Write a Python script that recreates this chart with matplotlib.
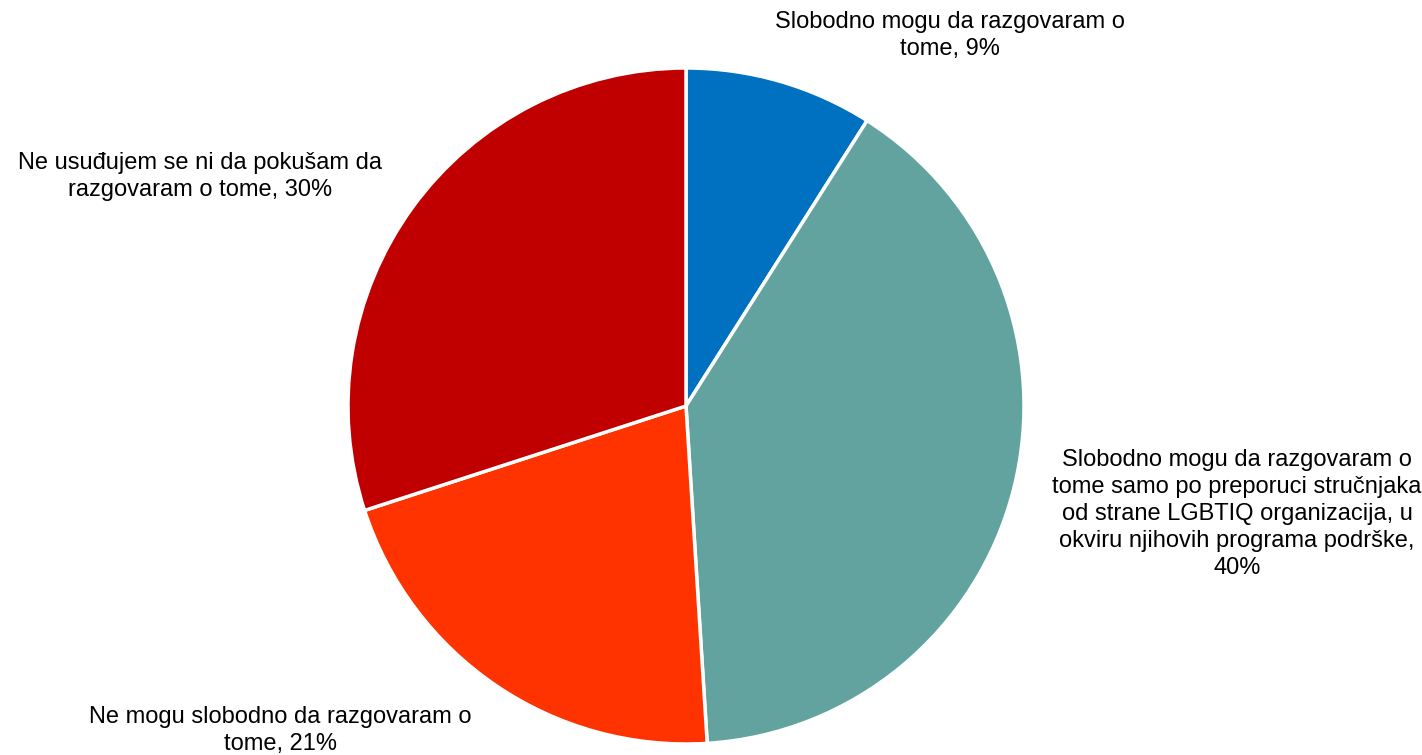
import matplotlib.pyplot as plt

plt.rcParams['font.family'] = ['Liberation Sans', 'DejaVu Sans']

labels = [
    "Slobodno mogu da razgovaram o\ntome, 9%",
    "Slobodno mogu da razgovaram o\ntome samo po preporuci stručnjaka\nod strane LGBTIQ organizacija, u\nokviru njihovih programa podrške,\n40%",
    "Ne mogu slobodno da razgovaram o\ntome, 21%",
    "Ne usuđujem se ni da pokušam da\nrazgovaram o tome, 30%",
]
values = [9, 40, 21, 30]
colors = ['#0070C0', '#63A39F', '#FF3300', '#C00000']
# label centers in data units (pie radius = 1)
label_pos = [(0.781, 1.095), (1.630, -0.320), (-1.201, -0.959), (-1.438, 0.680)]

fig = plt.figure(figsize=(14.22, 7.55), dpi=100)
ax = fig.add_axes([348 / 1422, 11 / 755, 676 / 1422, 676 / 755])

ax.pie(values, colors=colors, startangle=90, counterclock=False, radius=1,
       wedgeprops=dict(edgecolor='white', linewidth=2.5))

for txt, (x, y) in zip(labels, label_pos):
    ax.text(x, y, txt, ha='center', va='center', fontsize=17, linespacing=1.3,
            color='black')

ax.set_xlim(-1, 1)
ax.set_ylim(-1, 1)
ax.set_aspect('equal')
ax.axis('off')

fig.savefig('out.png', dpi=100)
